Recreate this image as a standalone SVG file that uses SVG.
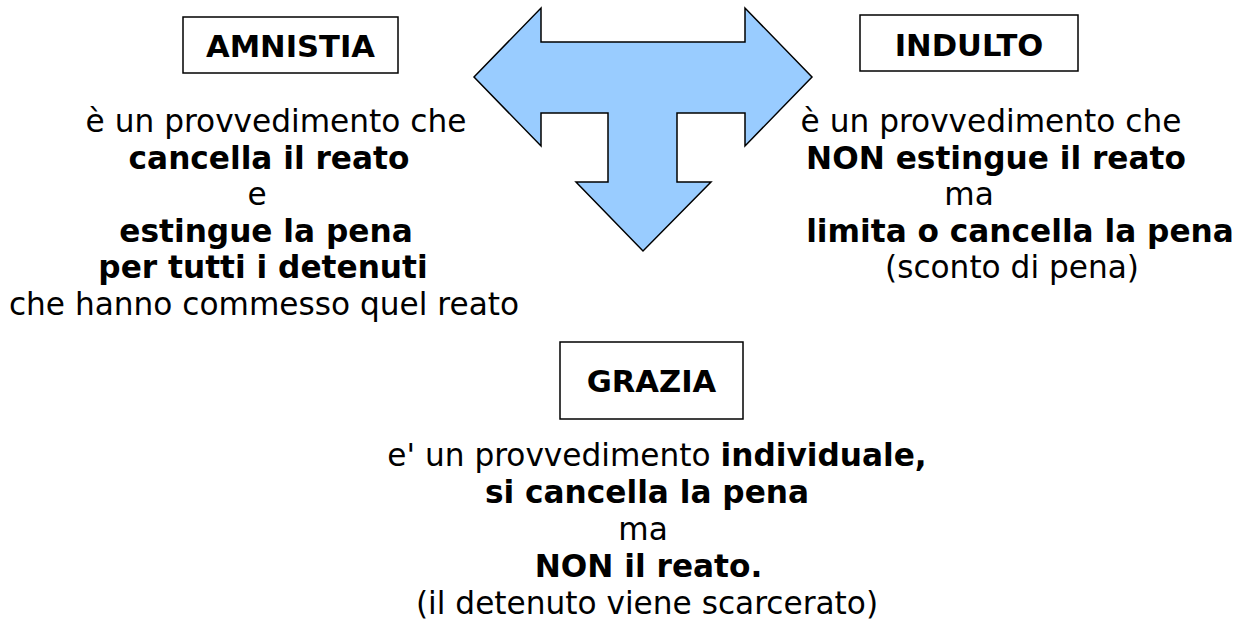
<svg xmlns="http://www.w3.org/2000/svg" width="1247" height="623" viewBox="0 0 1247 623">
<style>
text{font-family:"DejaVu Sans","Liberation Sans",sans-serif;font-size:31.2px;fill:#000;text-anchor:middle}
.b{font-weight:bold}
.t{font-size:30.6px}
.box{fill:#fff;stroke:#000;stroke-width:1.5}
.arrow{fill:#99ccff;stroke:#000;stroke-width:1.5;stroke-linejoin:miter}
</style>
<rect width="1247" height="623" fill="#fff"/>
<g id="connectors">
<path class="arrow" d="M474,77 L541,8 L541,42 L745,42 L745,8 L812,77 L745,146 L745,113 L677,113 L677,182 L711,182 L643,251 L576,182 L608,182 L608,113 L541,113 L541,146 Z"/>
</g>
<g id="amnistia">
<rect class="box" x="183" y="17" width="215" height="56"/>
<text class="b t" x="290.5" y="57">AMNISTIA</text>
<text x="276" y="132">è un provvedimento che</text>
<text class="b" x="269" y="168.5">cancella il reato</text>
<text x="257" y="205">e</text>
<text class="b" x="266" y="241.5">estingue la pena</text>
<text class="b" x="263" y="278">per tutti i detenuti</text>
<text x="264" y="314.5">che hanno commesso quel reato</text>
</g>
<g id="indulto">
<rect class="box" x="860" y="15" width="218" height="56"/>
<text class="b t" x="969" y="56">INDULTO</text>
<text x="991" y="132">è un provvedimento che</text>
<text class="b" x="996" y="168.5">NON estingue il reato</text>
<text x="969" y="205">ma</text>
<text class="b" x="1020" y="241.5">limita o cancella la pena</text>
<text x="1012" y="278">(sconto di pena)</text>
</g>
<g id="grazia">
<rect class="box" x="560" y="342" width="183" height="77"/>
<text class="b t" x="651.5" y="392">GRAZIA</text>
<text x="657" y="466">e' un provvedimento <tspan class="b">individuale,</tspan></text>
<text class="b" x="647" y="503">si cancella la pena</text>
<text x="643" y="540">ma</text>
<text class="b" x="648.5" y="577">NON il reato.</text>
<text x="647" y="614">(il detenuto viene scarcerato)</text>
</g>
</svg>
